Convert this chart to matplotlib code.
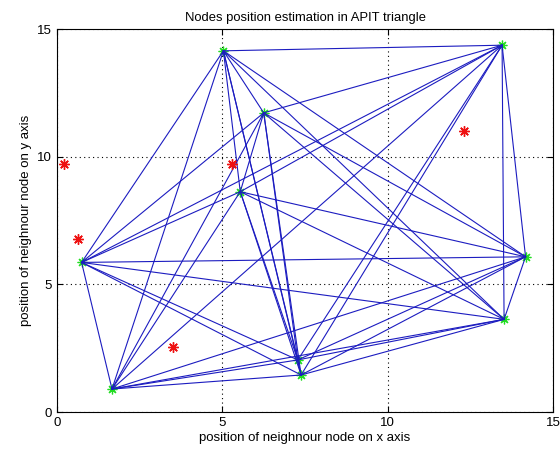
import itertools
import matplotlib
matplotlib.use("Agg")
import matplotlib.pyplot as plt

# Anchor nodes (green stars)
anchor_x = [5.03, 6.25, 5.54, 13.46, 14.17, 13.52, 0.74, 1.66, 7.38, 7.28]
anchor_y = [14.15, 11.72, 8.63, 14.37, 6.08, 3.63, 5.86, 0.90, 1.45, 2.04]

# Unknown nodes (red stars)
unknown_x = [0.21, 5.29, 12.30, 0.64, 3.51]
unknown_y = [9.71, 9.71, 11.00, 6.78, 2.53]

ticks = [0, 5, 10, 15]
title = "Nodes position estimation in APIT triangle"
xlabel = "position of neighnour node on x axis"
ylabel = "position of neighnour node on y axis"

plt.rcParams['font.family'] = ['Liberation Sans', 'DejaVu Sans']

fig = plt.figure(figsize=(5.6, 4.55), dpi=100)
ax = fig.add_axes([0.102, 0.0945, 0.8855, 0.8415])

asterisk = (8, 2, 0)
ax.plot(anchor_x, anchor_y, linestyle='none', marker=asterisk, color='#22dd22',
        markersize=7, markeredgewidth=0.9, zorder=2)

for i, j in itertools.combinations(range(len(anchor_x)), 2):
    ax.plot([anchor_x[i], anchor_x[j]], [anchor_y[i], anchor_y[j]],
            color='#1c1cc0', linewidth=0.8, zorder=3)

ax.plot(unknown_x, unknown_y, linestyle='none', marker=asterisk, color='#ee1111',
        markersize=7.5, markeredgewidth=1.0, zorder=4)

ax.set_xlim(0, 15)
ax.set_ylim(0, 15)
ax.set_xticks(ticks)
ax.set_yticks(ticks)
ax.grid(True, linestyle=(0, (1, 3)), color='black', linewidth=0.8)
ax.tick_params(direction='in', top=True, right=True, labelsize=9.5, length=4)
for s in ax.spines.values():
    s.set_linewidth(0.8)
ax.set_title(title, fontsize=9.4, pad=6)
ax.set_xlabel(xlabel, fontsize=9.5, labelpad=2)
ax.set_ylabel(ylabel, fontsize=9.5, labelpad=4)

fig.savefig("out.png", dpi=100)
